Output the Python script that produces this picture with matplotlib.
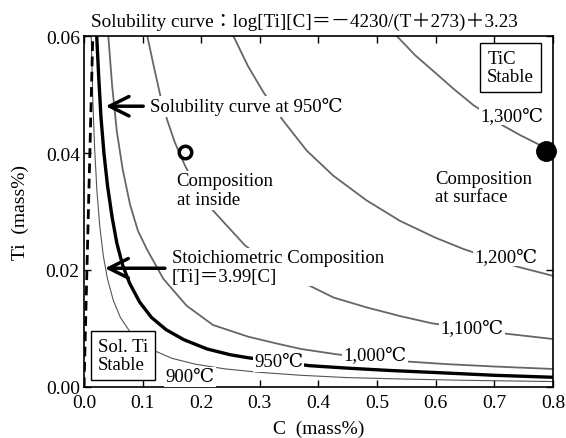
import matplotlib
matplotlib.use('Agg')
import matplotlib.pyplot as plt
import numpy as np

plt.rcParams['font.family'] = ['Liberation Serif', 'DejaVu Serif', 'Noto Sans CJK JP']

# ── curves (C mass%, Ti mass%) ──────────────────────────────────────────────
c_900 = [0.0123, 0.015, 0.018, 0.022, 0.027, 0.033, 0.040, 0.050, 0.062, 0.078,
         0.095, 0.12, 0.15, 0.19, 0.24, 0.30, 0.37, 0.45, 0.55, 0.65, 0.80]
ti_900 = [0.0602, 0.0493, 0.0411, 0.0336, 0.0274, 0.0224, 0.0185, 0.0148, 0.0119, 0.0095,
          0.0078, 0.0062, 0.0049, 0.0039, 0.0031, 0.0025, 0.0020, 0.0016, 0.00135, 0.00114, 0.00093]

c_950 = [0.0217, 0.025, 0.029, 0.034, 0.040, 0.048, 0.056, 0.066, 0.078, 0.095,
         0.115, 0.14, 0.17, 0.21, 0.25, 0.28, 0.33, 0.385, 0.45, 0.52, 0.60, 0.70, 0.80]
ti_950 = [0.060, 0.0532, 0.0461, 0.0400, 0.0345, 0.0290, 0.0246, 0.0208, 0.0177, 0.0145,
          0.0119, 0.0098, 0.0081, 0.0065, 0.0055, 0.0050, 0.0043, 0.00364, 0.00322, 0.00283, 0.00247, 0.00200, 0.00166]

c_1000 = [0.0415, 0.048, 0.056, 0.066, 0.0785, 0.092, 0.107, 0.1353, 0.175, 0.22,
          0.28, 0.33, 0.37, 0.43, 0.50, 0.55, 0.62, 0.70, 0.80]
ti_1000 = [0.060, 0.0515, 0.0437, 0.0372, 0.0312, 0.0267, 0.0236, 0.0185, 0.0139, 0.0106,
           0.0086, 0.0074, 0.0065, 0.0056, 0.0048, 0.00436, 0.0039, 0.0035, 0.00308]

c_1100 = [0.108, 0.118, 0.13, 0.142, 0.155, 0.172, 0.19, 0.2207, 0.2747, 0.32,
          0.357, 0.4255, 0.4823, 0.54, 0.593, 0.66, 0.721, 0.80]
ti_1100 = [0.060, 0.0553, 0.0499, 0.0456, 0.0418, 0.0379, 0.0345, 0.0301, 0.0242, 0.0208,
           0.0187, 0.0153, 0.0136, 0.0121, 0.0109, 0.0099, 0.0091, 0.0082]

c_1200 = [0.2548, 0.28, 0.306, 0.34, 0.38, 0.4255, 0.482, 0.539, 0.60, 0.647, 0.70, 0.738, 0.80]
ti_1200 = [0.060, 0.0548, 0.0504, 0.0455, 0.0404, 0.0361, 0.0319, 0.0284, 0.0255, 0.0236,
           0.0218, 0.0206, 0.0190]

c_1300 = [0.5336, 0.565, 0.596, 0.63, 0.664, 0.70, 0.7128, 0.745, 0.775, 0.80]
ti_1300 = [0.060, 0.0567, 0.0540, 0.0510, 0.0482, 0.0458, 0.0448, 0.0430, 0.0415, 0.0402]

c_stoich = [0.0, 0.015]
ti_stoich = [0.0, 0.06]

inside_pt = (0.172, 0.0402)
surface_pt = (0.788, 0.0403)

# curve labels: text, C, Ti
curve_labels = [('900℃', 0.181, 0.00176), ('950℃', 0.332, 0.0043),
                ('1,000℃', 0.497, 0.00547), ('1,100℃', 0.662, 0.0102),
                ('1,200℃', 0.719, 0.0223), ('1,300℃', 0.730, 0.0464)]

fig = plt.figure(figsize=(5.66, 4.39), dpi=100)
ax = fig.add_axes([0.1484, 0.1162, 0.8286, 0.7995])

gray = '#666666'
ax.plot(c_900, ti_900, color='#555555', lw=0.8, zorder=2)
ax.plot(c_950, ti_950, color='black', lw=2.4, zorder=2)
ax.plot(c_1000, ti_1000, color=gray, lw=1.3, zorder=2)
ax.plot(c_1100, ti_1100, color=gray, lw=1.3, zorder=2)
ax.plot(c_1200, ti_1200, color=gray, lw=1.3, zorder=2)
ax.plot(c_1300, ti_1300, color=gray, lw=1.3, zorder=2)
ax.plot(c_stoich, ti_stoich, color='black', lw=2.0, ls=(0, (3.5, 2)), zorder=2)

ax.plot(*inside_pt, 'o', ms=9, mfc='white', mec='black', mew=2.5, zorder=5)
ax.plot(*surface_pt, 'o', ms=14, color='black', zorder=5, clip_on=False)

fs = 13.5
wbox = dict(facecolor='white', edgecolor='none', pad=1.0)
for txt, cx, cy in curve_labels:
    ax.text(cx, cy, txt, fontsize=fs, ha='center', va='center', bbox=wbox, zorder=4)

ax.text(0.1126, 0.048, 'Solubility curve at 950℃', fontsize=fs, ha='left', va='center',
        bbox=wbox, zorder=4)
ax.text(0.1497, 0.0205, 'Stoichiometric Composition\n[Ti]＝3.99[C]', fontsize=fs,
        ha='left', va='center', linespacing=1.15, bbox=wbox, zorder=4)
ax.text(0.158, 0.0336, 'Composition\nat inside', fontsize=fs, ha='left', va='center',
        linespacing=1.15, bbox=wbox, zorder=4)
ax.text(0.599, 0.0341, 'Composition\nat surface', fontsize=fs, ha='left', va='center',
        linespacing=1.15, bbox=wbox, zorder=4)

ax.text(0.7278, 0.0546, 'TiC\nStable', fontsize=fs, ha='center', va='center',
        multialignment='left', linespacing=1.1,
        bbox=dict(facecolor='white', edgecolor='black', lw=1.0, pad=5), zorder=4)
ax.text(0.0235, 0.00535, 'Sol. Ti\nStable', fontsize=fs, ha='left', va='center',
        multialignment='left', linespacing=1.1,
        bbox=dict(facecolor='white', edgecolor='black', lw=1.0, pad=5), zorder=4)

arrow = dict(arrowstyle='->,head_length=0.7,head_width=0.35', lw=2.5, color='black',
             mutation_scale=20, shrinkA=0, shrinkB=0)
ax.annotate('', xy=(0.037, 0.048), xytext=(0.101, 0.048), arrowprops=arrow, zorder=6)
ax.annotate('', xy=(0.0358, 0.0203), xytext=(0.138, 0.0203), arrowprops=arrow, zorder=6)

ax.set_xlim(0, 0.8)
ax.set_ylim(0, 0.06)
ax.set_xticks(np.arange(0, 0.81, 0.1))
ax.set_yticks([0.0, 0.02, 0.04, 0.06])
ax.set_xticklabels(['0.0', '0.1', '0.2', '0.3', '0.4', '0.5', '0.6', '0.7', '0.8'])
ax.set_yticklabels(['0.00', '0.02', '0.04', '0.06'])
ax.tick_params(direction='in', top=True, right=True, length=5, width=1.0,
               labelsize=14, pad=3)
ax.tick_params(axis='x', pad=5)
for sp in ax.spines.values():
    sp.set_linewidth(1.2)

ax.set_xlabel('C  (mass%)', fontsize=14, labelpad=6)
ax.set_ylabel('Ti  (mass%)', fontsize=14, labelpad=12)
ax.set_title('Solubility curve：log[Ti][C]＝－4230/(T＋273)＋3.23', fontsize=13.8,
             pad=7, x=0.47)

fig.savefig('out.png', dpi=100)
